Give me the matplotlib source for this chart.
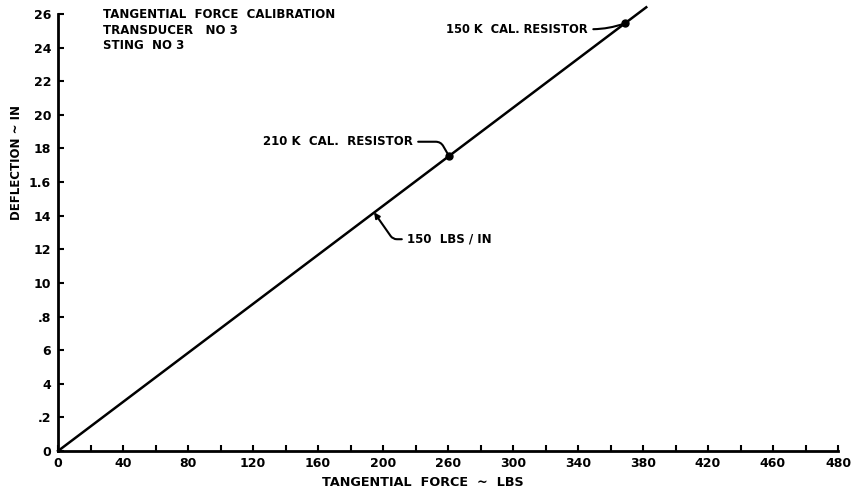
import matplotlib
matplotlib.use("Agg")
import matplotlib.pyplot as plt

# calibration line and marked resistor points (force in lbs, deflection in in)
line_force = [0, 362]
line_defl = [0, 2.64]
cal_force = [240.6, 349]
cal_defl = [1.755, 2.545]

xticks = [0, 40, 80, 120, 160, 200, 240, 280, 320, 360, 400, 440, 480]
xlabels = ["0", "40", "80", "120", "160", "200", "260", "300", "340", "380", "420", "460", "480"]
yticks = [0, .2, .4, .6, .8, 1.0, 1.2, 1.4, 1.6, 1.8, 2.0, 2.2, 2.4, 2.6]
ylabels = ["0", ".2", "4", "6", ".8", "10", "12", "14", "1.6", "18", "20", "22", "24", "26"]

plt.rcParams['font.family'] = ['DejaVu Sans']
plt.rcParams['font.weight'] = 'bold'

fig = plt.figure(figsize=(8.58, 4.93), dpi=100)
ax = fig.add_axes([58/858, 1-451/493, 780/858, 437/493])

ax.plot(line_force, line_defl, color='black', lw=1.8, clip_on=False)
ax.plot(cal_force, cal_defl, 'o', color='black', ms=5, clip_on=False)

ax.set_xlim(0, 480)
ax.set_ylim(0, 2.6)
for s in ['top', 'right']:
    ax.spines[s].set_visible(False)
for s in ['left', 'bottom']:
    ax.spines[s].set_linewidth(2)

ax.set_xticks(xticks)
ax.set_xticklabels(xlabels)
ax.set_xticks(range(20, 480, 40), minor=True)
ax.set_yticks(yticks)
ax.set_yticklabels(ylabels)
ax.tick_params(axis='both', which='both', direction='in', length=4, width=1.5, labelsize=9)
ax.tick_params(axis='y', pad=5)
ax.tick_params(axis='x', pad=4)
for lab in ax.get_xticklabels() + ax.get_yticklabels():
    lab.set_fontweight('bold')

# title block
ax.text(27.7, 2.60, "TANGENTIAL  FORCE  CALIBRATION", fontsize=8.5, fontweight='bold', va='center')
ax.text(27.7, 2.50, "TRANSDUCER   NO 3", fontsize=8.5, fontweight='bold', va='center')
ax.text(27.7, 2.41, "STING  NO 3", fontsize=8.5, fontweight='bold', va='center')

# leaders
ax.annotate("150 K  CAL. RESISTOR", xy=(cal_force[1], cal_defl[1]), xytext=(326, 2.51),
            fontsize=8.3, fontweight='bold', ha='right', va='center',
            arrowprops=dict(arrowstyle='-', lw=1.5, color='black', shrinkA=2, shrinkB=1,
                            relpos=(1, 0.5), connectionstyle='arc3,rad=0.1'))
ax.annotate("210 K  CAL.  RESISTOR", xy=(cal_force[0], cal_defl[0]), xytext=(126, 1.84),
            fontsize=8.5, fontweight='bold', ha='left', va='center',
            arrowprops=dict(arrowstyle='-', lw=1.5, color='black', shrinkA=2, shrinkB=1,
                            relpos=(1, 0.5),
                            connectionstyle='angle,angleA=0,angleB=120,rad=5'))
ax.annotate("150  LBS / IN", xy=(194.5, 1.42), xytext=(215, 1.26),
            fontsize=8.5, fontweight='bold', ha='left', va='center',
            arrowprops=dict(arrowstyle='-|>', mutation_scale=8, lw=1.5, color='black',
                            shrinkA=2, shrinkB=0, relpos=(0, 0.5),
                            connectionstyle='angle,angleA=180,angleB=-55,rad=4'))

fig.text(423/858, 1-483/493, "TANGENTIAL  FORCE  ~  LBS", fontsize=9.2, fontweight='bold',
         ha='center', va='center')
fig.text(17/858, 1-163/493, "DEFLECTION ~ IN", fontsize=8.5, fontweight='bold',
         ha='center', va='center', rotation=90)

fig.savefig("out.png", dpi=100)
